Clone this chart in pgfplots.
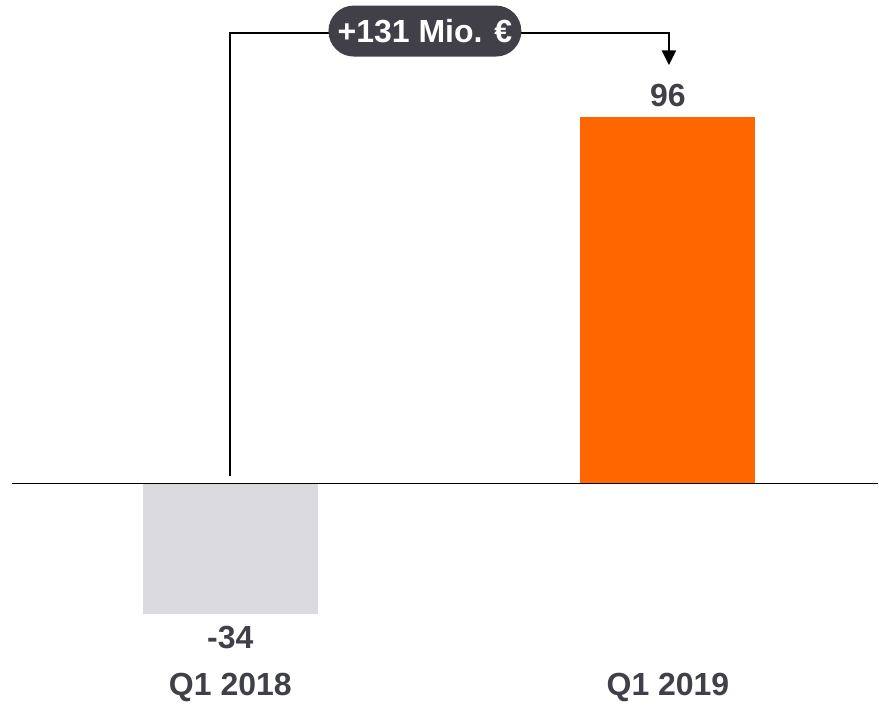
\documentclass[border=0pt]{standalone}
\usepackage{pgfplots}
\pgfplotsset{compat=1.18}
\usepackage{fontspec}
\setmainfont{Liberation Sans}
\usetikzlibrary{arrows.meta}
\definecolor{barorange}{HTML}{FF6600}
\definecolor{bargray}{HTML}{DADADF}
\definecolor{txtgray}{HTML}{404049}
\definecolor{boxgray}{HTML}{414049}
\begin{document}
\begin{tikzpicture}
\begin{axis}[
  scale only axis,
  width=659.25pt, height=528pt,
  xmin=-0.5263, xmax=1.4806,
  ymin=-57.55, ymax=126.6,
  axis line style={draw=none},
  major tick length=0pt,
  ytick=\empty,
  xtick={0,1},
  xticklabels={Q1 2018, Q1 2019},
  xticklabel style={anchor=center, yshift=12pt, text=txtgray, font=\fontsize{24}{28}\selectfont\bfseries},
  ybar, bar width=0.4, bar shift=0pt,
  clip=false,
  point meta=explicit symbolic,
  every node near coord/.append style={text=txtgray, font=\fontsize{24}{28}\selectfont\bfseries, anchor=center},
]
\addplot[fill=bargray, draw=none, nodes near coords, every node near coord/.append style={yshift=-18pt}] coordinates {(0,-34) [-34]};
\addplot[fill=barorange, draw=none, nodes near coords, every node near coord/.append style={yshift=16.5pt}] coordinates {(1,96) [96]};
\draw[black, line width=1.1pt] (axis cs:-0.4989,0) -- (axis cs:1.4806,0);
\draw[black, line width=1.5pt, -{Triangle[width=10.5pt,length=11pt]}] (axis cs:0,2.09) -- (axis cs:0,118.1) -- (axis cs:1.0023,118.1) -- (axis cs:1.0023,109.6);
\node[fill=boxgray, text=white, rounded corners=19pt, minimum width=144.75pt, minimum height=38.25pt, inner sep=0pt, font=\fontsize{24}{28}\selectfont\bfseries] at (axis cs:0.4446,118.5) {+131 Mio. €};
\end{axis}
\end{tikzpicture}
\end{document}
